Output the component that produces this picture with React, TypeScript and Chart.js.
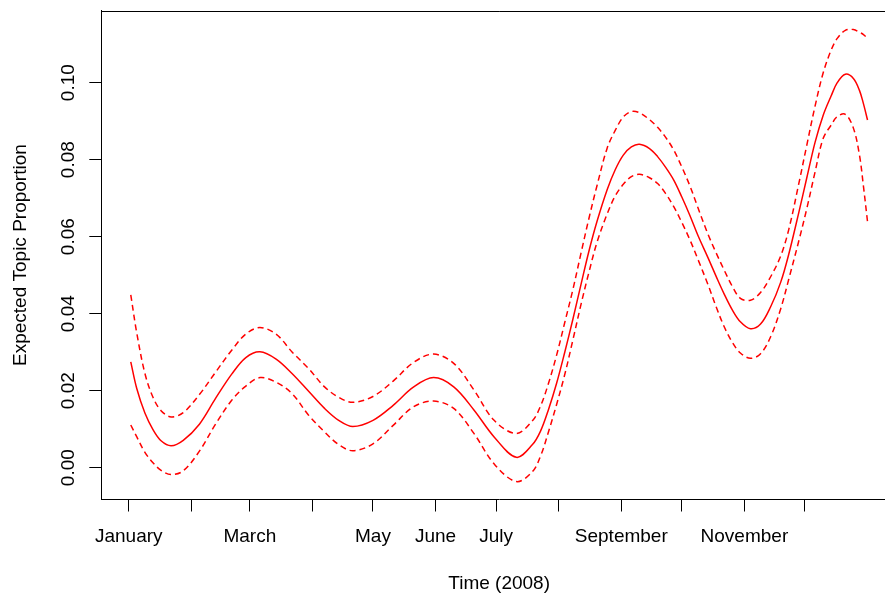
import React, { useEffect, useRef } from 'react';
import { Chart, registerables } from 'chart.js';

Chart.register(...registerables);

// Day of year 2008 (Jan 1 = 0)
const days = [1, 4, 8, 12, 16, 21, 27, 35, 43, 51, 58, 65, 73, 81, 89, 97, 104, 111, 121, 131, 141, 151, 161, 171, 181, 192, 200, 204, 208, 212, 216, 220, 224, 228, 232, 237, 241, 245, 249, 253, 258, 262, 266, 270, 274, 278, 282, 287, 291, 295, 299, 303, 308, 313, 318, 323, 327, 332, 336, 340, 344, 348, 351, 355, 359, 362, 364, 366];

const meanValues = [0.0275, 0.0205, 0.0142, 0.0099, 0.0070, 0.0057, 0.0071, 0.0113, 0.0180, 0.0243, 0.0286, 0.0301, 0.0282, 0.0244, 0.0199, 0.0154, 0.0123, 0.0107, 0.0123, 0.0162, 0.0209, 0.0234, 0.0210, 0.0150, 0.0080, 0.0027, 0.0060, 0.0095, 0.0152, 0.0220, 0.0300, 0.0385, 0.0475, 0.0563, 0.0640, 0.0722, 0.0774, 0.0812, 0.0833, 0.0840, 0.0829, 0.0808, 0.0780, 0.0747, 0.0703, 0.0655, 0.0603, 0.0545, 0.0497, 0.0451, 0.0410, 0.0379, 0.0361, 0.0373, 0.0418, 0.0482, 0.0555, 0.0664, 0.0755, 0.0845, 0.0915, 0.0966, 0.1000, 0.1022, 0.1011, 0.0980, 0.0945, 0.0903];

const upperValues = [0.0449, 0.0349, 0.0245, 0.0183, 0.0148, 0.0132, 0.0143, 0.0190, 0.0248, 0.0305, 0.0347, 0.0364, 0.0347, 0.0300, 0.0258, 0.0210, 0.0183, 0.0170, 0.0185, 0.0225, 0.0273, 0.0295, 0.0271, 0.0202, 0.0123, 0.0089, 0.0122, 0.0160, 0.0220, 0.0293, 0.0377, 0.0462, 0.0556, 0.0648, 0.0733, 0.0830, 0.0876, 0.0911, 0.0925, 0.0922, 0.0904, 0.0884, 0.0858, 0.0825, 0.0781, 0.0732, 0.0675, 0.0606, 0.0558, 0.0513, 0.0471, 0.0440, 0.0435, 0.0455, 0.0496, 0.0550, 0.0619, 0.0739, 0.0840, 0.0939, 0.1025, 0.1085, 0.1115, 0.1136, 0.1138, 0.1131, 0.1125, 0.1115];

const lowerValues = [0.0111, 0.0080, 0.0040, 0.0013, -0.0007, -0.0018, -0.0008, 0.0043, 0.0113, 0.0175, 0.0212, 0.0234, 0.0222, 0.0192, 0.0137, 0.0093, 0.0060, 0.0044, 0.0062, 0.0110, 0.0158, 0.0173, 0.0154, 0.0089, 0.0010, -0.0036, -0.0010, 0.0030, 0.0094, 0.0165, 0.0242, 0.0331, 0.0423, 0.0508, 0.0586, 0.0659, 0.0706, 0.0736, 0.0756, 0.0762, 0.0753, 0.0738, 0.0712, 0.0678, 0.0637, 0.0592, 0.0541, 0.0475, 0.0418, 0.0366, 0.0326, 0.0298, 0.0284, 0.0296, 0.0340, 0.0413, 0.0490, 0.0590, 0.0675, 0.0768, 0.0855, 0.0890, 0.0912, 0.0918, 0.0882, 0.0812, 0.0730, 0.0639];

const monthTickDays = [0, 31, 60, 91, 121, 152, 182, 213, 244, 274, 305, 335];
const monthTickLabels = ['January', '', 'March', '', 'May', 'June', 'July', '', 'September', '', 'November', ''];
const yTickValues = [0, 0.02, 0.04, 0.06, 0.08, 0.1];

const xAxisTitle = 'Time (2008)';
const yAxisTitle = 'Expected Topic Proportion';

const FONT = { family: "'Liberation Sans', Arial, Helvetica, sans-serif", size: 19 };

const boxPlugin = {
  id: 'topBox',
  afterDraw(chart: any) {
    const { ctx, chartArea } = chart;
    ctx.save();
    ctx.strokeStyle = '#000';
    ctx.lineWidth = 1;
    ctx.beginPath();
    const y = Math.round(chartArea.top) + 0.5;
    ctx.moveTo(chartArea.left, y);
    ctx.lineTo(chartArea.right, y);
    ctx.stroke();
    ctx.restore();
  },
};

export default function App() {
  const ref = useRef<HTMLCanvasElement>(null);

  useEffect(() => {
    if (!ref.current) return;
    const toPts = (vals: number[]) => days.map((d, i) => ({ x: d, y: vals[i] }));
    const common = {
      borderColor: '#ff0000',
      borderWidth: 1.5,
      pointRadius: 0,
      fill: false,
      tension: 0.35,
    };
    const chart = new Chart(ref.current, {
      type: 'line',
      data: {
        datasets: [
          { ...common, label: 'mean', data: toPts(meanValues) },
          { ...common, label: 'upper', data: toPts(upperValues), borderDash: [6, 4] },
          { ...common, label: 'lower', data: toPts(lowerValues), borderDash: [6, 4] },
        ],
      },
      options: {
        responsive: false,
        animation: false,
        events: [],
        layout: { padding: { top: 10.7, left: 0, right: 0, bottom: 0 } },
        plugins: { legend: { display: false }, tooltip: { enabled: false } },
        scales: {
          x: {
            type: 'linear',
            min: -13.6,
            max: 380.6,
            afterBuildTicks: (s: any) => {
              s.ticks = monthTickDays.map((v) => ({ value: v }));
            },
            afterFit: (s: any) => {
              s.height = 96.5;
              s.paddingLeft = 0;
              s.paddingRight = 0;
            },
            ticks: {
              autoSkip: false,
              maxRotation: 0,
              minRotation: 0,
              padding: 13.8,
              color: '#000',
              font: FONT,
              callback: (v: any) => monthTickLabels[monthTickDays.indexOf(Number(v))] ?? '',
            },
            grid: { drawOnChartArea: false, tickLength: 12, color: '#000', tickWidth: 1 },
            border: { display: true, color: '#000', width: 1 },
            title: { display: true, text: xAxisTitle, color: '#000', font: FONT, padding: { top: 0, bottom: 1.3 } },
          },
          y: {
            type: 'linear',
            min: -0.00826,
            max: 0.1187,
            afterBuildTicks: (s: any) => {
              s.ticks = yTickValues.map((v) => ({ value: v }));
            },
            afterFit: (s: any) => {
              s.width = 101.3;
              s.paddingTop = 0;
              s.paddingBottom = 0;
            },
            ticks: {
              minRotation: 90,
              maxRotation: 90,
              crossAlign: 'center',
              padding: 2.4,
              color: '#000',
              font: FONT,
              callback: (v: any) => Number(v).toFixed(2),
            },
            grid: { drawOnChartArea: false, tickLength: 12, color: '#000', tickWidth: 1 },
            border: { display: true, color: '#000', width: 1 },
            title: { display: true, text: yAxisTitle, color: '#000', font: FONT, padding: { top: 9.6, bottom: 0 } },
          },
        },
      },
      plugins: [boxPlugin],
    } as any);
    return () => chart.destroy();
  }, []);

  return (
    <div style={{ position: 'absolute', left: 0, top: 0, width: 885, height: 596, overflow: 'hidden', background: '#fff' }}>
      <canvas ref={ref} width={897} height={596} style={{ display: 'block' }} />
    </div>
  );
}
